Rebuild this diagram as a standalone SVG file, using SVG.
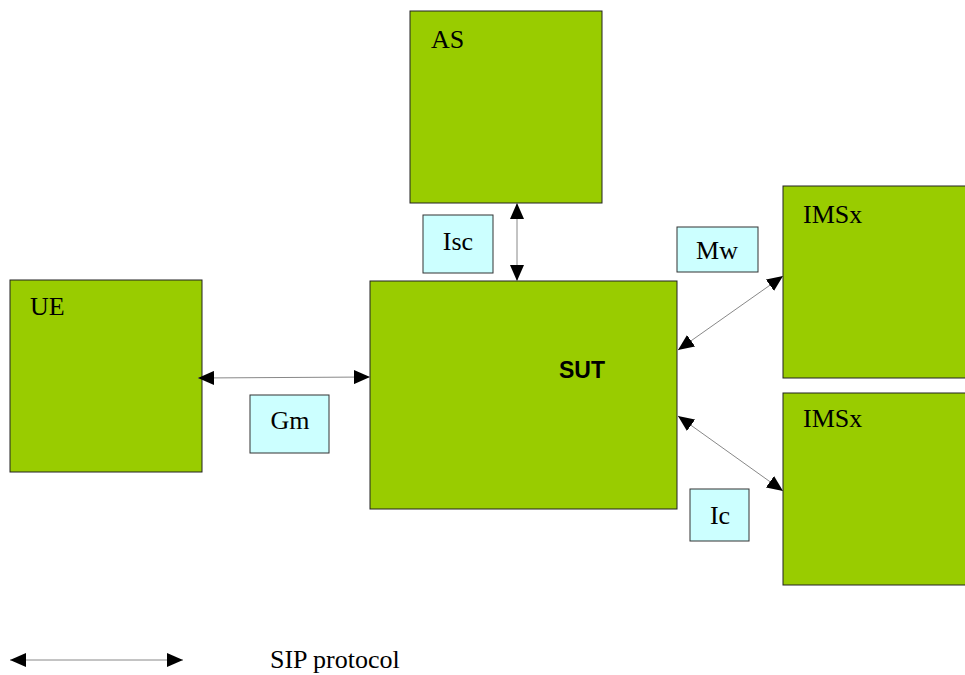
<svg xmlns="http://www.w3.org/2000/svg" width="965" height="675" viewBox="0 0 965 675">
<style>
.node{fill:#99cc00;stroke:#222;stroke-width:1}
.lbl{fill:#ccffff;stroke:#333;stroke-width:1}
.t{font-family:"Liberation Serif",serif;font-size:26px;fill:#000}
.c{stroke:#888;stroke-width:1;fill:none;marker-start:url(#a);marker-end:url(#a)}
</style>
<defs>
<marker id="a" viewBox="0 0 16 14" refX="16" refY="7" markerWidth="16" markerHeight="14" markerUnits="userSpaceOnUse" orient="auto-start-reverse">
<path d="M0,0 L16,7 L0,14 Z" fill="#000"/>
</marker>
</defs>
<rect width="965" height="675" fill="#fff"/>
<g id="AS"><rect class="node" x="410" y="11" width="192" height="192"/><text class="t" x="431" y="48">AS</text></g>
<g id="UE"><rect class="node" x="10" y="280" width="192" height="192"/><text class="t" x="30" y="315">UE</text></g>
<g id="SUT"><rect class="node" x="370" y="281" width="307" height="228"/><text x="582" y="378" text-anchor="middle" font-family="Liberation Sans,Arial,sans-serif" font-size="23" font-weight="bold">SUT</text></g>
<g id="IMSx1"><rect class="node" x="783" y="186" width="190" height="192"/><text class="t" x="803" y="223">IMSx</text></g>
<g id="IMSx2"><rect class="node" x="783" y="393" width="190" height="192"/><text class="t" x="803" y="427">IMSx</text></g>
<g id="Isc"><rect class="lbl" x="423" y="215" width="70" height="58"/><text class="t" x="458" y="250" text-anchor="middle">Isc</text></g>
<g id="Mw"><rect class="lbl" x="677" y="227" width="81" height="45"/><text class="t" x="717" y="259" text-anchor="middle">Mw</text></g>
<g id="Gm"><rect class="lbl" x="250" y="395" width="79" height="58"/><text class="t" x="290" y="429" text-anchor="middle">Gm</text></g>
<g id="Ic"><rect class="lbl" x="690" y="489" width="59" height="52"/><text class="t" x="720" y="524" text-anchor="middle">Ic</text></g>
<g id="connectors">
<line class="c" x1="517" y1="203" x2="517" y2="281"/>
<line class="c" x1="678" y1="350" x2="783" y2="276"/>
<line class="c" x1="678" y1="416" x2="783" y2="491"/>
<line class="c" x1="198" y1="378" x2="370" y2="377"/>
<line class="c" x1="10" y1="660" x2="183" y2="660"/>
</g>
<text class="t" x="270" y="668">SIP protocol</text>
</svg>
